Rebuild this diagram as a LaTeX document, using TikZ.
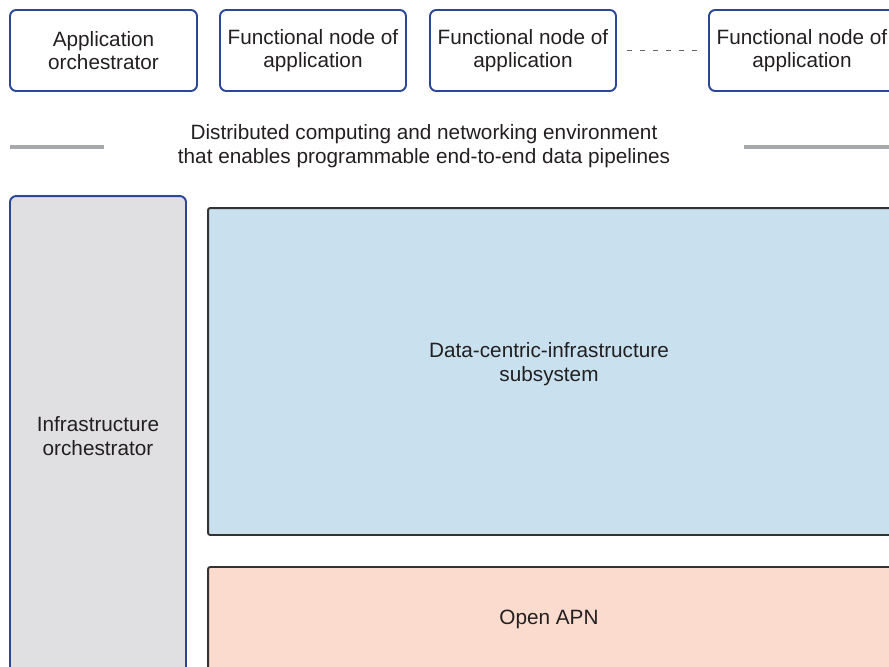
\documentclass[tikz,border=0pt]{standalone}
\usepackage{fontspec}
\setmainfont{Liberation Sans}
\usetikzlibrary{positioning}

\definecolor{appblue}{RGB}{43,72,152}
\definecolor{txtgray}{RGB}{35,31,32}
\definecolor{rulegray}{RGB}{167,169,172}
\definecolor{orchfill}{RGB}{224,223,225}
\definecolor{dcifill}{RGB}{201,225,239}
\definecolor{apnfill}{RGB}{250,219,205}

\begin{document}
\begin{tikzpicture}[%
        x = 0.02cm, y = -0.02cm,
        every node/.style = {
            font = \fontsize{11.8}{13.4}\selectfont,
            text = txtgray, align = center, inner sep = 0pt
        },
        app_box/.style = {
            draw = appblue, line width = 1.1pt, rounded corners = 3.5pt,
            fill = white, minimum width = 3.72cm, minimum height = 1.62cm
        },
        layer_box/.style = {
            draw = black!80, line width = 1.1pt, rounded corners = 1.2pt,
            minimum width = 13.84cm
        },
        gray_rule/.style = {draw = rulegray, line width = 2.1pt}
    ]

        % Page frame, the drawing is cut at the right and bottom edges.
        \useasboundingbox (0, 0) rectangle (889, 666);
        \clip (0, 0) rectangle (889, 666);

        % Application level
        \node (apporch) [app_box, minimum width = 3.74cm] at (103.5, 50.5)
            {Application\\orchestrator};
        \node (fnA) [app_box] at (313, 50.5) {Functional node of\\application};
        \node (fnB) [app_box] at (523, 50.5) {Functional node of\\application};
        \node (fnC) [app_box] at (802, 50.5) {Functional node of\\application};
        \draw[black!60, dash pattern = on 2.8pt off 4.6pt, line width = 0.6pt]
            ([xshift = 0.2cm] fnB.east) -- ([xshift = -0.2cm] fnC.west);

        % Environment label between the two gray rules
        \node (env) at (424, 146) {Distributed computing and networking environment\\
            that enables programmable end-to-end data pipelines};
        \coordinate (ruleLa) at (10, 147);
        \coordinate (ruleLb) at (104, 147);
        \coordinate (ruleRa) at (744, 147);
        \coordinate (ruleRb) at (900, 147);
        \draw[gray_rule] (ruleLa) -- (ruleLb);
        \draw[gray_rule] (ruleRa) -- (ruleRb);

        % Infrastructure level
        \node (infraorch) [draw = appblue, line width = 1.1pt, rounded corners = 3.5pt,
            fill = orchfill, minimum width = 3.52cm, minimum height = 9.6cm]
            at (98, 436) {Infrastructure\\orchestrator};
        \node (dci) [layer_box, fill = dcifill, minimum height = 6.54cm,
            text depth = 0.38cm] at (554, 371.5)
            {\hspace*{-0.2cm}Data-centric-infrastructure\\\hspace*{-0.2cm}subsystem};
        \node (apn) [layer_box, fill = apnfill, minimum height = 2.08cm]
            at (554, 619) {\hspace*{-0.2cm}Open APN};
    \end{tikzpicture}
\end{document}
